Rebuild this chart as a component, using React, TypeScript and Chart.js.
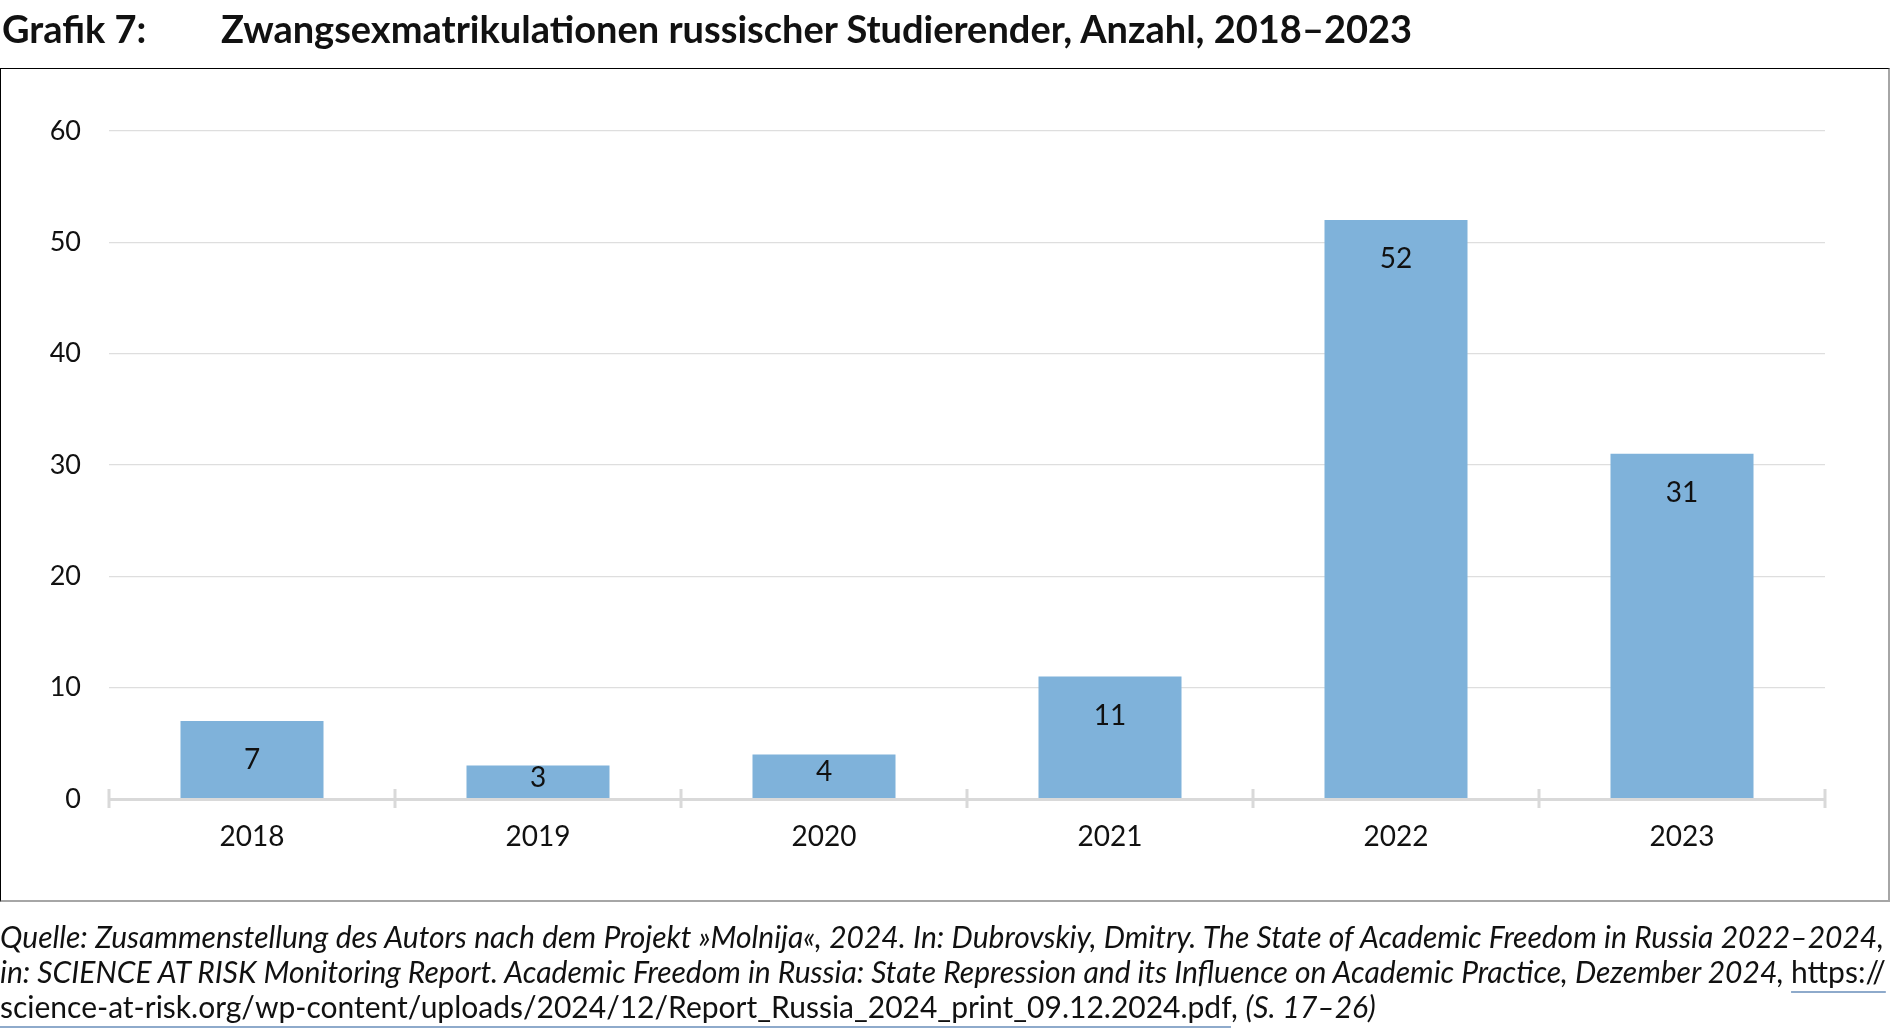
import React, { useEffect, useRef } from "react";
import { Chart, registerables } from "chart.js";

Chart.register(...registerables);

// ---- data ----
const categories: string[] = ["2018", "2019", "2020", "2021", "2022", "2023"];
const values: number[] = [7, 3, 4, 11, 52, 31];
const yMin = 0;
const yMax = 60;
const yStep = 10;

const titleLabel = "Grafik 7:";
const titleText = "Zwangsexmatrikulationen russischer Studierender, Anzahl, 2018–2023";
const sourceLine1 =
  "Quelle: Zusammenstellung des Autors nach dem Projekt »Molnija«, 2024. In: Dubrovskiy, Dmitry. The State of Academic Freedom in Russia 2022–2024,";
const sourceLine2 =
  "in: SCIENCE AT RISK Monitoring Report. Academic Freedom in Russia: State Repression and its Influence on Academic Practice, Dezember 2024,";
const urlPart1 = "https://";
const urlPart2 = "science-at-risk.org/wp-content/uploads/2024/12/Report_Russia_2024_print_09.12.2024.pdf";
const pagesText = "(S. 17–26)";

// ---- styles ----
const BAR_COLOR = "#7FB2DA";
const AXIS_COLOR = "#d9d9d9";
const GRID_COLOR = "#dedede";
const TEXT_COLOR = "#111111";
const FONT = "Lato";

const barLabelPlugin = {
  id: "barLabels",
  afterDatasetsDraw(chart: any) {
    const ctx = chart.ctx;
    const meta = chart.getDatasetMeta(0);
    const size = 28;
    ctx.save();
    ctx.font = `${size}px ${FONT}`;
    ctx.fillStyle = TEXT_COLOR;
    ctx.textAlign = "center";
    ctx.textBaseline = "alphabetic";
    meta.data.forEach((bar: any, i: number) => {
      const { x, y, base } = bar.getProps(["x", "y", "base"], true);
      const h = base - y;
      const capCenter = h >= 75 ? y + 38 : (y + base) / 2 - 5;
      ctx.fillText(String(values[i]), x, capCenter + 0.358 * size);
    });
    ctx.restore();
  },
};

const tickMarkPlugin = {
  id: "tickMarks",
  afterDraw(chart: any) {
    const xs = chart.scales.x;
    const ctx = chart.ctx;
    ctx.save();
    ctx.strokeStyle = AXIS_COLOR;
    ctx.lineWidth = 3;
    for (let i = 0; i <= categories.length; i++) {
      const px = Math.round(xs.getPixelForValue(i - 0.5));
      ctx.beginPath();
      ctx.moveTo(px, xs.top - 10);
      ctx.lineTo(px, xs.top + 9);
      ctx.stroke();
    }
    ctx.restore();
  },
};

function BarChart() {
  const ref = useRef<HTMLCanvasElement | null>(null);
  useEffect(() => {
    let chart: Chart | null = null;
    let cancelled = false;
    const make = () => {
      if (cancelled || !ref.current) return;
      chart = new Chart(ref.current, {
        type: "bar",
        data: {
          labels: categories,
          datasets: [
            {
              data: values,
              backgroundColor: BAR_COLOR,
              borderWidth: 0,
              barPercentage: 0.5,
              categoryPercentage: 1,
            },
          ],
        },
        options: {
          animation: false,
          responsive: false,
          maintainAspectRatio: false,
          devicePixelRatio: 1,
          layout: { padding: { left: 0, top: 131, right: 65, bottom: 137 } },
          plugins: {
            legend: { display: false },
            title: { display: false },
            tooltip: { enabled: false },
          },
          scales: {
            x: {
              grid: { display: true, drawOnChartArea: false, drawTicks: false, color: "rgba(0,0,0,0)" },
              border: { display: true, color: AXIS_COLOR, width: 3, z: 1 },
              ticks: {
                color: TEXT_COLOR,
                padding: 21.5,
                font: { family: FONT, size: 28 },
                maxRotation: 0,
                autoSkip: false,
              },
              afterFit: (s: any) => {
                s.height = 100;
              },
            },
            y: {
              min: yMin,
              max: yMax,
              grid: { color: GRID_COLOR, lineWidth: 1.3, drawTicks: false },
              border: { display: false },
              ticks: {
                stepSize: yStep,
                color: TEXT_COLOR,
                padding: 28,
                font: { family: FONT, size: 27 },
              },
              afterFit: (s: any) => {
                s.width = 109;
              },
            },
          },
        },
        plugins: [barLabelPlugin, tickMarkPlugin],
      });
    };
    const fonts: any = (document as any).fonts;
    if (fonts && fonts.load) {
      Promise.all([fonts.load(`28px ${FONT}`), fonts.load(`bold 38px ${FONT}`), fonts.load(`italic 30px ${FONT}`)])
        .catch(() => null)
        .then(make);
    } else {
      make();
    }
    return () => {
      cancelled = true;
      if (chart) chart.destroy();
    };
  }, []);
  return (
    <canvas
      ref={ref}
      width={1890}
      height={1036}
      style={{ position: "absolute", left: 0, top: 0, width: 1890, height: 1036, zIndex: 1 }}
    />
  );
}

export default function App() {
  const titleSize = 38;
  const titleTop = 43 - 0.887 * titleSize;
  const capSize = 30;
  const capLine = 35;
  const capTop = 948 - ((capLine - 1.2 * capSize) / 2 + 0.987 * capSize);
  const underline: React.CSSProperties = {
    fontStyle: "normal",
    textDecoration: "underline",
    textDecorationColor: "#8eaacb",
    textDecorationThickness: "2px",
    textUnderlineOffset: "8px",
  };
  const justified: React.CSSProperties = {
    textAlign: "justify",
    textAlignLast: "justify" as any,
    whiteSpace: "nowrap",
    height: capLine,
  };
  return (
    <div
      style={{
        position: "absolute",
        left: 0,
        top: 0,
        width: 1890,
        height: 1036,
        overflow: "hidden",
        background: "#ffffff",
        fontFamily: FONT,
        color: TEXT_COLOR,
      }}
    >
      <div
        style={{
          position: "absolute",
          left: 2,
          top: titleTop,
          fontSize: titleSize,
          lineHeight: 1,
          fontWeight: 700,
          whiteSpace: "nowrap",
          zIndex: 2,
        }}
      >
        {titleLabel}
      </div>
      <div
        style={{
          position: "absolute",
          left: 221,
          top: titleTop,
          fontSize: titleSize,
          lineHeight: 1,
          fontWeight: 700,
          whiteSpace: "nowrap",
          zIndex: 2,
        }}
      >
        {titleText}
      </div>
      <div
        style={{
          position: "absolute",
          left: 0,
          top: 68,
          width: 1890,
          height: 834,
          boxSizing: "border-box",
          borderTop: "1px solid #000",
          borderLeft: "1px solid #000",
          borderRight: "2px solid #a6a6a6",
          borderBottom: "2px solid #a6a6a6",
          zIndex: 0,
        }}
      />
      <BarChart />
      <div
        style={{
          position: "absolute",
          left: 0,
          top: capTop,
          width: 1884,
          fontSize: capSize,
          lineHeight: `${capLine}px`,
          fontStyle: "italic",
          zIndex: 2,
        }}
      >
        <div style={justified}>{sourceLine1}</div>
        <div style={justified}>
          {sourceLine2} <span style={underline}>{urlPart1}</span>
        </div>
        <div style={{ whiteSpace: "nowrap", height: capLine }}>
          <span style={underline}>{urlPart2}</span>
          <span style={{ fontStyle: "normal" }}>, </span>
          {pagesText}
        </div>
      </div>
    </div>
  );
}
